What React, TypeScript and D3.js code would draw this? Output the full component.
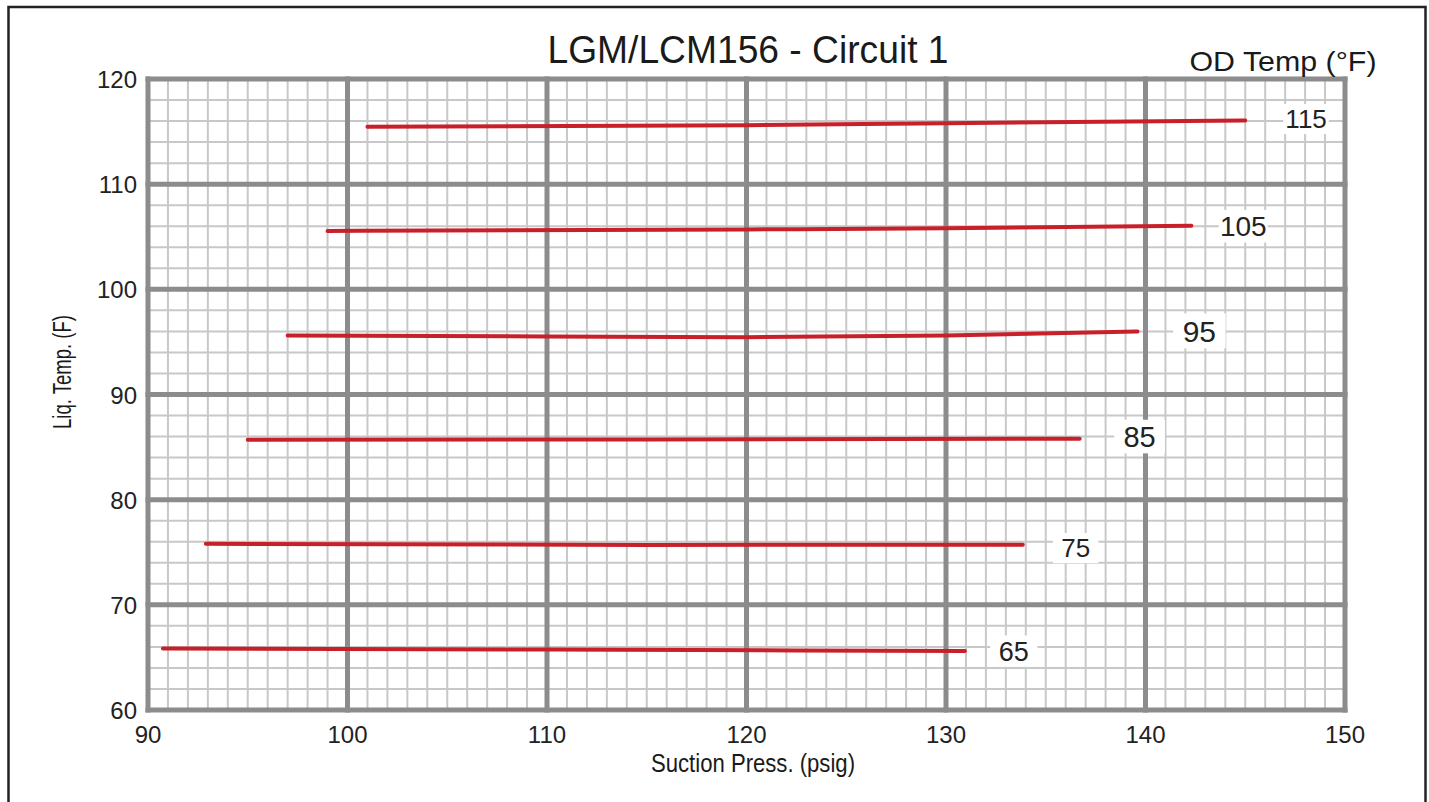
import React from "react";
import * as d3 from "d3";

const xTicks = [90, 100, 110, 120, 130, 140, 150];
const yTicks = [60, 70, 80, 90, 100, 110, 120];
const odTemps = [115, 105, 95, 85, 75, 65];

const curve115: [number, number][] = [[101.0, 115.45], [120, 115.6], [130, 115.8], [145.0, 116.05]];
const curve105: [number, number][] = [[99.0, 105.55], [120, 105.7], [130, 105.8], [142.3, 106.05]];
const curve95: [number, number][] = [[97.0, 95.62], [110, 95.52], [120, 95.45], [130, 95.6], [139.6, 96.0]];
const curve85: [number, number][] = [[95.0, 85.7], [115, 85.72], [136.7, 85.8]];
const curve75: [number, number][] = [[92.9, 75.8], [115, 75.7], [133.85, 75.72]];
const curve65: [number, number][] = [[90.75, 65.85], [110, 65.75], [130.95, 65.6]];

const labelX = [148.05, 144.9, 142.7, 139.7, 136.5, 133.4];
const labelY = [116.2, 106.0, 96.05, 86.0, 75.4, 65.6];
const labelSize = [26, 28, 30, 29, 26, 27];

const curves = [curve115, curve105, curve95, curve85, curve75, curve65];

export default function App() {
  const x = d3.scaleLinear().domain([90, 150]).range([148, 1345]);
  const y = d3.scaleLinear().domain([60, 120]).range([710, 79]);
  const line = d3
    .line<[number, number]>()
    .x((d) => x(d[0]))
    .y((d) => y(d[1]))
    .curve(d3.curveMonotoneX);

  const minorX = d3.range(90, 151, 1).filter((v) => v % 10 !== 0);
  const minorY = d3.range(60, 121, 2).filter((v) => v % 10 !== 0);
  const font = "'Liberation Sans', Arial, Helvetica, sans-serif";

  return (
    <svg
      width={1429}
      height={802}
      style={{ position: "absolute", left: 0, top: 0, background: "#fff" }}
      fontFamily={font}
    >
      <rect x={8.5} y={7} width={1417} height={900} fill="#fff" stroke="#222" strokeWidth={2.5} />
      <g>
        {minorX.map((v) => (
          <line key={"mx" + v} x1={x(v)} x2={x(v)} y1={y(120)} y2={y(60)} stroke="#c8c8c8" strokeWidth={2} />
        ))}
        {minorY.map((v) => (
          <line key={"my" + v} x1={x(90)} x2={x(150)} y1={y(v)} y2={y(v)} stroke="#c8c8c8" strokeWidth={2} />
        ))}
        {xTicks.map((v) => (
          <line key={"Mx" + v} x1={x(v)} x2={x(v)} y1={y(120) - 2.5} y2={y(60) + 2.5} stroke="#8c8c8c" strokeWidth={5} />
        ))}
        {yTicks.map((v) => (
          <line key={"My" + v} x1={x(90) - 2.5} x2={x(150) + 2.5} y1={y(v)} y2={y(v)} stroke="#8c8c8c" strokeWidth={5} />
        ))}
      </g>
      {curves.map((c, i) => (
        <path key={"c" + i} d={line(c) || ""} fill="none" stroke="#c8202a" strokeWidth={4} strokeLinecap="round" />
      ))}
      {odTemps.map((t, i) => {
        const cx = x(labelX[i]);
        const cy = y(labelY[i]);
        const fs = labelSize[i];
        const w = fs * 1.75;
        return (
          <g key={"l" + t}>
            <rect x={cx - w / 2} y={cy - fs * 0.58} width={w} height={fs * 1.16} fill="#fff" />
            <text x={cx} y={cy} dy="0.36em" textAnchor="middle" fontSize={fs} fill="#222">
              {t}
            </text>
          </g>
        );
      })}
      {yTicks.map((v) => (
        <text key={"yt" + v} x={137} y={y(v)} dy="0.38em" textAnchor="end" fontSize={24} fill="#222">
          {v}
        </text>
      ))}
      {xTicks.map((v) => (
        <text key={"xt" + v} x={x(v)} y={743} textAnchor="middle" fontSize={24} fill="#222">
          {v}
        </text>
      ))}
      <text x={748} y={63} textAnchor="middle" fontSize={38} fill="#1a1a1a" textLength={401} lengthAdjust="spacingAndGlyphs">
        LGM/LCM156 - Circuit 1
      </text>
      <text x={1283} y={71} textAnchor="middle" fontSize={28} fill="#1a1a1a" textLength={187} lengthAdjust="spacingAndGlyphs">
        OD Temp (°F)
      </text>
      <text x={753} y={772} textAnchor="middle" fontSize={25} fill="#1a1a1a" textLength={204} lengthAdjust="spacingAndGlyphs">
        Suction Press. (psig)
      </text>
      <text
        transform="translate(71,372) rotate(-90)"
        textAnchor="middle"
        fontSize={25}
        fill="#1a1a1a"
        textLength={114}
        lengthAdjust="spacingAndGlyphs"
      >
        Liq. Temp. (F)
      </text>
    </svg>
  );
}
